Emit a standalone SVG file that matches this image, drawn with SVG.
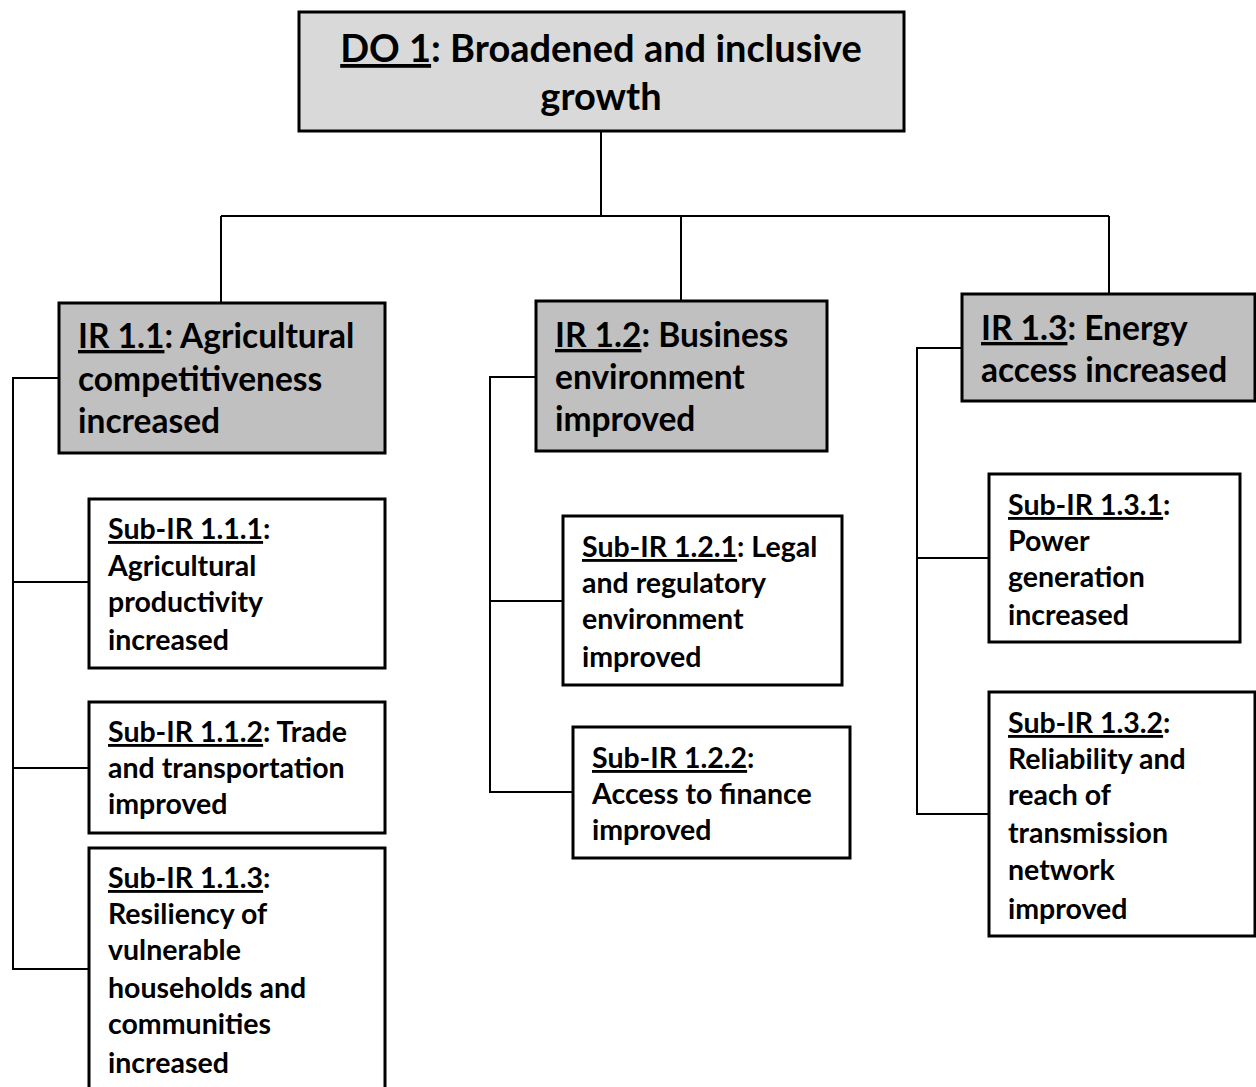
<svg xmlns="http://www.w3.org/2000/svg" width="1256" height="1087" viewBox="0 0 1256 1087">
<style>
.box{stroke:#000;stroke-width:3;}
.do{fill:#d9d9d9;}
.ir{fill:#c0c0c0;}
.sub{fill:#fff;}
.t{font-family:Lato,"Liberation Sans",sans-serif;font-weight:700;fill:#000;}
.big{font-size:38px;}
.mid{font-size:33.5px;}
.sm{font-size:28.5px;}
.u{text-decoration:underline;}
.c{fill:none;stroke:#000;stroke-width:2;}
</style>
<rect width="1256" height="1087" fill="#fff"/>
<g id="connectors">
<path class="c" d="M601,131 V216 M221,216 H1109 M221,216 V303 M681,216 V301 M1109,216 V294"/>
<path class="c" d="M59,378 H13 V969 H89 M13,582 H89 M13,768 H89"/>
<path class="c" d="M536,377 H490 V792 H573 M490,601 H563"/>
<path class="c" d="M962,348 H917 V814 H989 M917,558 H989"/>
</g>
<g id="do1">
<rect class="box do" x="299" y="12" width="605" height="119"/>
<text class="t big" text-anchor="middle"><tspan x="601" y="62"><tspan class="u">DO 1</tspan>: Broadened and inclusive</tspan><tspan x="601" y="110">growth</tspan></text>
</g>
<g id="ir11">
<rect class="box ir" x="59" y="303" width="326" height="150"/>
<text class="t mid"><tspan x="78" y="348"><tspan class="u">IR 1.1</tspan>: Agricultural</tspan><tspan x="78" y="391">competitiveness</tspan><tspan x="78" y="433">increased</tspan></text>
</g>
<g id="ir12">
<rect class="box ir" x="536" y="301" width="291" height="150"/>
<text class="t mid"><tspan x="555" y="347"><tspan class="u">IR 1.2</tspan>: Business</tspan><tspan x="555" y="389">environment</tspan><tspan x="555" y="431">improved</tspan></text>
</g>
<g id="ir13">
<rect class="box ir" x="962" y="294" width="293" height="107"/>
<text class="t mid"><tspan x="981" y="340"><tspan class="u">IR 1.3</tspan>: Energy</tspan><tspan x="981" y="382">access increased</tspan></text>
</g>
<g id="sub111">
<rect class="box sub" x="89" y="499" width="296" height="169"/>
<text class="t sm"><tspan x="108" y="539"><tspan class="u">Sub-IR 1.1.1</tspan>:</tspan><tspan x="108" y="576">Agricultural</tspan><tspan x="108" y="612">productivity</tspan><tspan x="108" y="650">increased</tspan></text>
</g>
<g id="sub112">
<rect class="box sub" x="89" y="702" width="296" height="131"/>
<text class="t sm"><tspan x="108" y="742"><tspan class="u">Sub-IR 1.1.2</tspan>: Trade</tspan><tspan x="108" y="778">and transportation</tspan><tspan x="108" y="814">improved</tspan></text>
</g>
<g id="sub113">
<rect class="box sub" x="89" y="848" width="296" height="245"/>
<text class="t sm"><tspan x="108" y="888"><tspan class="u">Sub-IR 1.1.3</tspan>:</tspan><tspan x="108" y="924">Resiliency of</tspan><tspan x="108" y="960">vulnerable</tspan><tspan x="108" y="998">households and</tspan><tspan x="108" y="1034">communities</tspan><tspan x="108" y="1073">increased</tspan></text>
</g>
<g id="sub121">
<rect class="box sub" x="563" y="516" width="279" height="169"/>
<text class="t sm"><tspan x="582" y="557"><tspan class="u">Sub-IR 1.2.1</tspan>: Legal</tspan><tspan x="582" y="593">and regulatory</tspan><tspan x="582" y="629">environment</tspan><tspan x="582" y="667">improved</tspan></text>
</g>
<g id="sub122">
<rect class="box sub" x="573" y="727" width="277" height="131"/>
<text class="t sm"><tspan x="592" y="768"><tspan class="u">Sub-IR 1.2.2</tspan>:</tspan><tspan x="592" y="804">Access to finance</tspan><tspan x="592" y="840">improved</tspan></text>
</g>
<g id="sub131">
<rect class="box sub" x="989" y="474" width="251" height="168"/>
<text class="t sm"><tspan x="1008" y="515"><tspan class="u">Sub-IR 1.3.1</tspan>:</tspan><tspan x="1008" y="551">Power</tspan><tspan x="1008" y="587">generation</tspan><tspan x="1008" y="625">increased</tspan></text>
</g>
<g id="sub132">
<rect class="box sub" x="989" y="692" width="266" height="244"/>
<text class="t sm"><tspan x="1008" y="733"><tspan class="u">Sub-IR 1.3.2</tspan>:</tspan><tspan x="1008" y="769">Reliability and</tspan><tspan x="1008" y="805">reach of</tspan><tspan x="1008" y="843">transmission</tspan><tspan x="1008" y="880">network</tspan><tspan x="1008" y="919">improved</tspan></text>
</g>
</svg>
